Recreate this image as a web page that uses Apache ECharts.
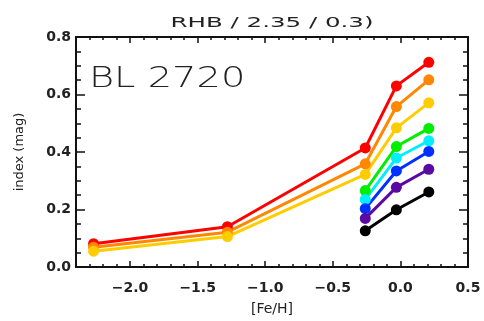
<!DOCTYPE html>
<html>
<head>
<meta charset="utf-8">
<script src="https://cdn.jsdelivr.net/npm/echarts@6/dist/echarts.min.js"></script>
<style>html,body{margin:0;padding:0;background:#fff;}#c{width:484px;height:321px;}</style>
</head>
<body>
<div id="c"></div>
<script>
var fehLong = [-2.27, -1.28, -0.26, -0.03, 0.21];
var fehShort = [-0.26, -0.03, 0.21];
var redVals = [0.081, 0.140, 0.414, 0.630, 0.712];
var orangeVals = [0.069, 0.121, 0.359, 0.558, 0.651];
var yellowVals = [0.055, 0.106, 0.322, 0.484, 0.571];
var greenVals = [0.266, 0.419, 0.482];
var cyanVals = [0.235, 0.379, 0.439];
var blueVals = [0.203, 0.334, 0.402];
var purpleVals = [0.169, 0.277, 0.340];
var blackVals = [0.126, 0.199, 0.261];
var xMajorTicks = [-2.0, -1.5, -1.0, -0.5, 0.0, 0.5];
var xMinorTicks = [-2.4, -2.3, -2.2, -2.1, -1.9, -1.8, -1.7, -1.6, -1.4, -1.3, -1.2, -1.1, -0.9, -0.8, -0.7, -0.6, -0.4, -0.3, -0.2, -0.1, 0.1, 0.2, 0.3, 0.4];
var titleText = 'RHB / 2.35 / 0.3)';
var labelText = 'BL 2720';

function pairs(xs, ys) { return xs.map(function (x, i) { return [x, ys[i]]; }); }
function fmt(v) { return v.toFixed(1).replace('-', '\u2212'); }

var seriesDefs = [
  ['red', '#ff0000', fehLong, redVals],
  ['orange', '#ff8800', fehLong, orangeVals],
  ['yellow', '#ffcc00', fehLong, yellowVals],
  ['green', '#00ee00', fehShort, greenVals],
  ['cyan', '#00eeff', fehShort, cyanVals],
  ['blue', '#0030ff', fehShort, blueVals],
  ['purple', '#5a0aa0', fehShort, purpleVals],
  ['black', '#000000', fehShort, blackVals]
];

var axisCol = '#111';
var labelFont = { color: '#222', fontSize: 14, fontWeight: 'bold', fontFamily: 'DejaVu Sans' };
var baseX = { type: 'value', min: -2.4, max: 0.5, gridIndex: 0, splitLine: { show: false } };
function mkX(pos, ticks, len, showLine, showLabel) {
  return Object.assign({}, baseX, {
    position: pos,
    axisLine: { show: showLine, onZero: false, lineStyle: { color: axisCol, width: 2 } },
    axisTick: { show: true, inside: true, length: len, customValues: ticks, lineStyle: { color: axisCol, width: 1.5 } },
    axisLabel: showLabel ? Object.assign({ show: true, customValues: ticks, formatter: fmt, margin: 14 }, labelFont) : { show: false, customValues: ticks },
    name: showLabel ? '[Fe/H]' : '',
    nameLocation: 'middle', nameGap: 35,
    nameTextStyle: { color: '#222', fontSize: 14, fontFamily: 'DejaVu Sans' }
  });
}
function mkY(pos, showLabel) {
  return {
    type: 'value', min: 0, max: 0.8, interval: 0.2, position: pos,
    splitLine: { show: false },
    axisLine: { show: true, onZero: false, lineStyle: { color: axisCol, width: 2 } },
    axisTick: { show: true, inside: true, length: 9, lineStyle: { color: axisCol, width: 1.5 } },
    minorTick: { show: true, splitNumber: 4, length: 5, lineStyle: { color: axisCol, width: 1.5 } },
    axisLabel: Object.assign({ show: showLabel, formatter: fmt, margin: 5 }, labelFont),
    name: showLabel ? 'index (mag)' : '',
    nameLocation: 'middle', nameGap: 50, nameRotate: 90,
    nameTextStyle: { color: '#222', fontSize: 13, fontFamily: 'DejaVu Sans' }
  };
}

var chart = echarts.init(document.getElementById('c'), null, { renderer: 'canvas' });
chart.setOption({
  animation: false,
  backgroundColor: '#fff',
  grid: { left: 76, right: 16, top: 37, bottom: 50, containLabel: false },
  xAxis: [
    mkX('bottom', xMajorTicks, 6, true, true),
    mkX('bottom', xMinorTicks, 3, false, false),
    mkX('top', xMajorTicks, 6, true, false),
    mkX('top', xMinorTicks, 3, false, false)
  ],
  yAxis: [mkY('left', true), mkY('right', false)],
  graphic: [
    { type: 'text', x: 272, y: 23, scaleX: 1.75, style: { text: titleText, fill: '#222', fontSize: 14, fontFamily: 'DejaVu Sans', textAlign: 'center', textVerticalAlign: 'middle' } },
    { type: 'text', x: 89, y: 80, scaleX: 1.37, style: { text: labelText, fill: '#222', fontSize: 28, fontFamily: 'DejaVu Sans', fontWeight: 200, textAlign: 'left', textVerticalAlign: 'middle' } }
  ],
  series: seriesDefs.map(function (d) {
    return {
      name: d[0], type: 'line', xAxisIndex: 0, yAxisIndex: 0,
      data: pairs(d[2], d[3]),
      symbol: 'circle', symbolSize: 11,
      lineStyle: { color: d[1], width: 3 },
      itemStyle: { color: d[1] },
      z: 2
    };
  })
});
</script>
</body>
</html>
